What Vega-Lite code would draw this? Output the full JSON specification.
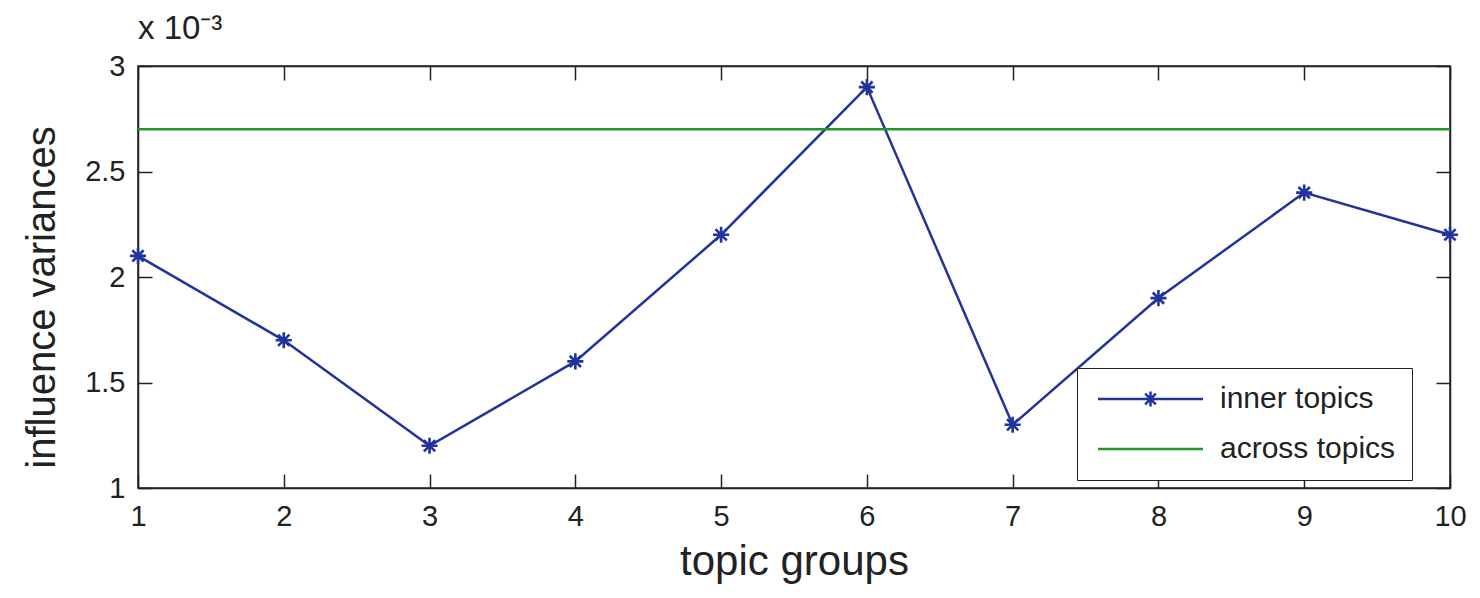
{
  "$schema": "https://vega.github.io/schema/vega-lite/v6.json",
  "autosize": "none",
  "width": 1312,
  "height": 422,
  "padding": {"left": 138, "top": 66, "right": 30, "bottom": 110},
  "background": "white",
  "title": {"text": "x 10⁻³", "anchor": "start", "frame": "group", "font": "Liberation Sans", "fontSize": 33, "fontWeight": "normal", "color": "#222", "offset": 6, "dx": 0},
  "config": {
    "font": "Liberation Sans",
    "view": {"stroke": "#222", "strokeWidth": 1.5},
    "axis": {"domainColor": "#222", "domainWidth": 1.5, "tickColor": "#222", "tickWidth": 1.5, "tickSize": -14, "grid": false, "labelFont": "Liberation Sans", "labelFontSize": 29, "labelColor": "#222", "titleFont": "Liberation Sans", "titleFontSize": 42, "titleFontWeight": "normal", "titleColor": "#222"}
  },
  "datasets": {
    "series": [
      {"group": 1, "variance": 0.0021, "series": "inner topics"},
      {"group": 2, "variance": 0.0017, "series": "inner topics"},
      {"group": 3, "variance": 0.0012, "series": "inner topics"},
      {"group": 4, "variance": 0.0016, "series": "inner topics"},
      {"group": 5, "variance": 0.0022, "series": "inner topics"},
      {"group": 6, "variance": 0.0029, "series": "inner topics"},
      {"group": 7, "variance": 0.0013, "series": "inner topics"},
      {"group": 8, "variance": 0.0019, "series": "inner topics"},
      {"group": 9, "variance": 0.0024, "series": "inner topics"},
      {"group": 10, "variance": 0.0022, "series": "inner topics"},
      {"group": 1, "variance": 0.0027, "series": "across topics"},
      {"group": 10, "variance": 0.0027, "series": "across topics"}
    ]
  },
  "data": {"name": "series"},
  "resolve": {"axis": {"x": "independent", "y": "independent"}},
  "layer": [
    {
      "mark": {"type": "line", "strokeWidth": 2.5},
      "encoding": {
        "x": {"field": "group", "type": "quantitative", "scale": {"domain": [1, 10], "nice": false, "zero": false},
          "axis": {"values": [1,2,3,4,5,6,7,8,9,10], "title": "topic groups", "labelPadding": 28, "titlePadding": 10, "labelFlush": false}},
        "y": {"field": "variance", "type": "quantitative", "scale": {"domain": [0.001, 0.003], "nice": false, "zero": false},
          "axis": {"values": [0.001, 0.0015, 0.002, 0.0025, 0.003], "labelExpr": "format(datum.value*1000, '~g')", "title": "influence variances", "titleFontSize": 40, "titleY": 231, "labelPadding": 27, "titlePadding": 22}},
        "color": {"field": "series", "type": "nominal",
          "scale": {"domain": ["inner topics", "across topics"], "range": ["#22339a", "#22962e"]},
          "legend": {"title": null, "orient": "none", "legendX": 939, "legendY": 302, "symbolType": "stroke", "symbolSize": 400, "symbolStrokeWidth": 2.5, "labelFontSize": 30, "labelFont": "Liberation Sans", "labelColor": "#222", "labelOffset": 97, "labelLimit": 400, "padding": 16, "rowPadding": 20, "strokeColor": "#222", "fillColor": "white",
            "encode": {"symbols": {"update": {"shape": {"signal": "datum.value === 'inner topics' ? 'M-1,0H9.5M4.25,-0.75V0.75M3.5,0H5M3.72,-0.53L4.78,0.53M3.72,0.53L4.78,-0.53' : 'M-1,0H9.5'"}, "strokeWidth": {"value": 2.5}}}}}}
      }
    },
    {
      "transform": [{"filter": "datum.series === 'inner topics'"}],
      "mark": {"type": "point", "shape": "M0,-1V1M-1,0H1M-0.7,-0.7L0.7,0.7M-0.7,0.7L0.7,-0.7", "filled": false, "size": 260, "strokeWidth": 2.6, "opacity": 1, "color": "#22339a"},
      "encoding": {
        "x": {"field": "group", "type": "quantitative", "axis": {"orient": "top", "values": [1,2,3,4,5,6,7,8,9,10], "labels": false, "title": null}},
        "y": {"field": "variance", "type": "quantitative", "axis": {"orient": "right", "values": [0.001, 0.0015, 0.002, 0.0025, 0.003], "labels": false, "title": null}}
      }
    }
  ]
}
